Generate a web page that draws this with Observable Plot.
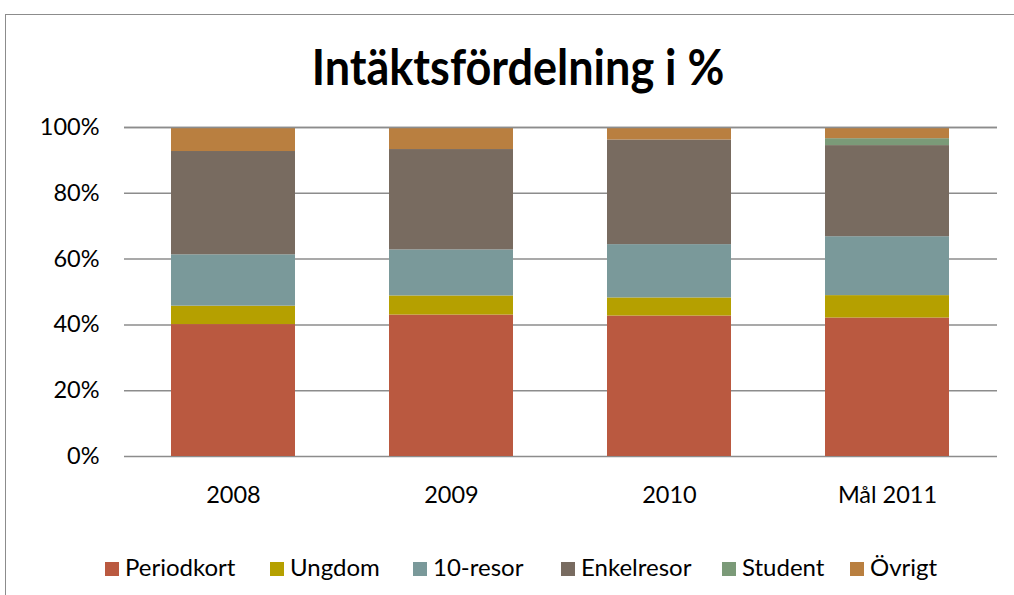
<!DOCTYPE html>
<html><head><meta charset="utf-8">
<script src="https://cdn.jsdelivr.net/npm/d3@7"></script>
<script src="https://cdn.jsdelivr.net/npm/@observablehq/plot@0.6"></script>
<style>
html,body{margin:0;padding:0;background:#fff;overflow:hidden;width:1014px;height:595px;}
#frame{position:absolute;left:5px;top:14px;width:1030px;height:600px;border:1.5px solid #8c8c8c;box-sizing:border-box;}
#title{position:absolute;left:0;top:36px;width:1036px;text-align:center;font-family:Lato,sans-serif;font-weight:bold;font-size:45px;color:#000;transform:scaleY(1.12);transform-origin:center top;}
#chart{position:absolute;left:0;top:0;}
#legend{position:absolute;left:0;top:552px;width:1014px;height:30px;font-family:Lato,sans-serif;font-size:24px;color:#000;}
#legend div{position:absolute;top:0;white-space:nowrap;}
#legend span.sw{display:inline-block;width:14px;height:14px;margin-right:6px;vertical-align:0px;}
</style></head>
<body>
<div id="frame"></div>
<div id="title">Intäktsfördelning i %</div>
<div id="chart"></div>
<div id="legend"></div>
<script>
const categories = ["2008", "2009", "2010", "Mål 2011"];
const seriesNames = ["Periodkort", "Ungdom", "10-resor", "Enkelresor", "Student", "Övrigt"];
const colors = ["#BA5940", "#B5A000", "#7A999A", "#786B60", "#7B9A78", "#B97F40"];
const periodkort = [40.1, 43.0, 42.7, 42.1];
const ungdom = [5.6, 5.8, 5.5, 6.8];
const tioResor = [15.6, 14.0, 16.2, 17.9];
const enkelresor = [31.4, 30.5, 31.8, 27.7];
const student = [0, 0, 0, 2.1];
const ovrigt = [7.3, 6.7, 3.8, 3.4];
const yTicks = [0, 0.2, 0.4, 0.6, 0.8, 1.0];

const seriesValues = [periodkort, ungdom, tioResor, enkelresor, student, ovrigt];
const rows = [];
seriesNames.forEach((s, i) => {
  categories.forEach((c, j) => {
    rows.push({category: c, series: s, value: seriesValues[i][j] / 100});
  });
});

const chart = Plot.plot({
  width: 1014,
  height: 520,
  marginTop: 127,
  marginBottom: 64,
  marginLeft: 124,
  marginRight: 17,
  style: {fontFamily: "Lato, sans-serif", fontSize: "23.5px", color: "#000", background: "transparent"},
  x: {domain: categories, paddingInner: 0.43, paddingOuter: 0.215, label: null, tickSize: 0, tickPadding: 30},
  y: {domain: [0, 1], ticks: yTicks, tickFormat: d => Math.round(d * 100) + "%", label: null, tickSize: 0, tickPadding: 25},
  color: {domain: seriesNames, range: colors},
  marks: [
    Plot.ruleY(yTicks, {stroke: "#8c8c8c", strokeWidth: 1.5}),
    Plot.barY(rows, {x: "category", y: "value", fill: "series", order: seriesNames}),
    Plot.ruleY([1], {stroke: "#8c8c8c", strokeWidth: 1.5})
  ]
});
document.getElementById("chart").appendChild(chart);

const legendLeft = [105, 270, 413, 561, 722, 850];
const legend = document.getElementById("legend");
seriesNames.forEach((s, i) => {
  const item = document.createElement("div");
  item.style.left = legendLeft[i] + "px";
  item.innerHTML = `<span class="sw" style="background:${colors[i]}"></span>${s}`;
  legend.appendChild(item);
});
</script>
</body></html>
